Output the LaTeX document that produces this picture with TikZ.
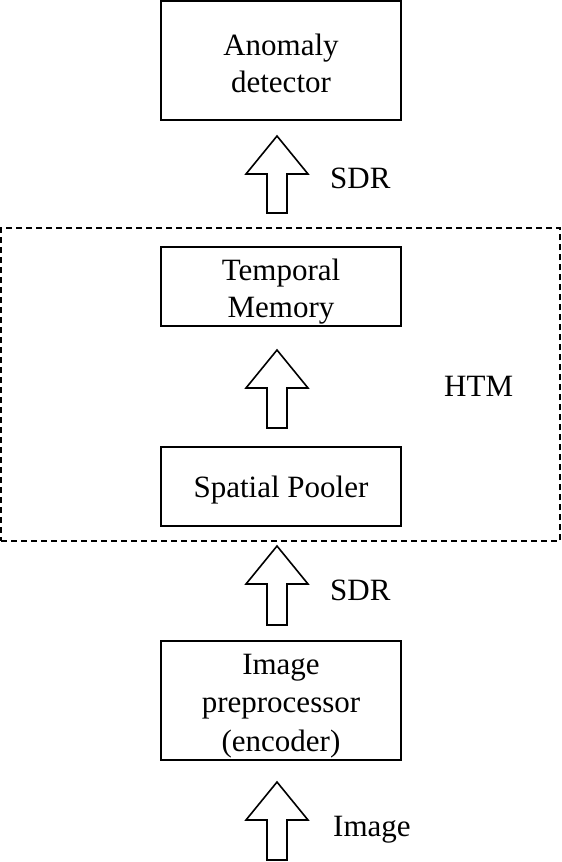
\documentclass[tikz,border=0pt]{standalone}
\usepackage{fontspec}
\setmainfont{Liberation Serif}
\begin{document}
\begin{tikzpicture}[x=1pt,y=-1pt,
  blk/.style={draw,line width=1.6pt,minimum width=240pt,inner sep=0pt},
  txt/.style={align=center,inner sep=0pt},
  lbl/.style={font=\fontsize{31}{34}\selectfont,anchor=west,inner sep=0pt},
  barrow/.style={draw,line width=1.6pt,fill=white,line join=miter}]
\useasboundingbox (0,0) rectangle (562,862);
\node[blk,minimum height=119pt] (anom) at (281,60.5) {};
\node[txt,font=\fontsize{31}{37.5}\selectfont] (anomt) at (281,63.5) {Anomaly\\detector};
\node[blk,minimum height=79pt] (tm) at (281,286.5) {};
\node[txt,font=\fontsize{31}{37}\selectfont] (tmt) at (281,291.5) {Temporal\\Memory};
\node[blk,minimum height=79pt] (sp) at (281,486.5) {};
\node[txt,font=\fontsize{31}{37}\selectfont] (spt) at (281,490) {Spatial Pooler};
\node[blk,minimum height=119pt] (img) at (281,700.5) {};
\node[txt,font=\fontsize{31}{38.5}\selectfont] (imgt) at (281,706) {Image\\preprocessor\\(encoder)};
\node[draw,dashed,dash pattern=on 6pt off 4pt,line width=1.7pt,minimum width=559pt,minimum height=313pt,inner sep=0pt] (htm) at (280.5,384.5) {};
% block arrows
\newcommand{\blockarr}[2]{%
  \draw[barrow] (267,#1) -- (287,#1) -- (287,#2+38) -- (308,#2+38) -- (277,#2) -- (246,#2+38) -- (267,#2+38) -- cycle;}
\blockarr{213}{136}
\blockarr{428}{350}
\blockarr{625}{546}
\blockarr{860}{782}
\node[lbl] (sdr1) at (330,178) {SDR};
\node[lbl] (html) at (444,386) {HTM};
\node[lbl] (sdr2) at (330,590) {SDR};
\node[lbl] (imgl) at (333,830) {Image};
\end{tikzpicture}
\end{document}
